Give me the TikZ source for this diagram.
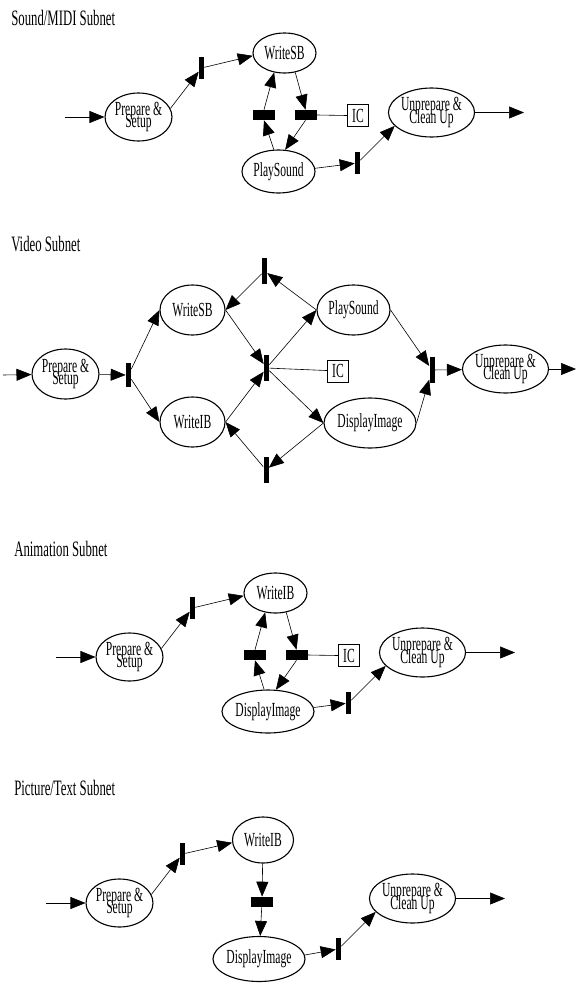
\documentclass[tikz,border=0pt]{standalone}
\usepackage{fontspec}
\setmainfont{Liberation Serif}[FakeStretch=0.58]
\usetikzlibrary{shapes.geometric,arrows.meta}
\newcommand\placefont{\fontsize{20}{12.5}\selectfont\lineskiplimit -30pt\relax}

\begin{document}
\begin{tikzpicture}[x=1pt,y=-1pt,line width=0.6pt,>={Triangle[length=15pt,width=12pt]},
    every node/.style={inner sep=0pt},
    place/.style={draw,ellipse,line width=1.1pt,align=center,font=\placefont},
    vbar/.style={fill=black,minimum width=5pt,minimum height=22pt},
    hbar/.style={fill=black,minimum width=22pt,minimum height=10pt},
    icbox/.style={draw,minimum width=21pt,minimum height=22pt,font=\fontsize{20}{12}\selectfont},
    title/.style={anchor=west,font=\fontsize{22}{24}\selectfont}]
  \useasboundingbox (0,0) rectangle (576,983);
  % sound/midi
  \node[title] (t1) at (11,18) {Sound/MIDI Subnet};
  \coordinate (s0) at (65,117);
  \node[place,minimum width=63pt,minimum height=48pt] (sprep) at (138.5,117) {Prepare \&\\Setup};
  \node[vbar] (sb1) at (201.5,68) {};
  \node[place,minimum width=63pt,minimum height=40pt] (sws) at (284.5,53) {WriteSB};
  \node[hbar] (slb) at (264,115) {};
  \node[hbar] (srb) at (305.5,115) {};
  \node[icbox] (sic) at (358,115.5) {IC};
  \node[place,minimum width=73pt,minimum height=43pt] (sps) at (278.5,171.5) {PlaySound};
  \node[vbar] (sb2) at (357.5,163) {};
  \node[place,minimum width=85pt,minimum height=49pt] (sup) at (431.5,112.5) {Unprepare \&\\Clean Up};
  \coordinate (s9) at (524,112.5);
  \draw[->] (s0) -- (sprep);
  \draw[->] (sprep.15) -- (sb1);
  \draw[->] (sb1) -- (sws.185);
  \draw[->] (sws.-61) -- (srb.north);
  \draw[->] (srb.south) -- (sps.73);
  \draw[->] (sps.102) -- (slb.south);
  \draw[->] (slb.north) -- (sws.-118);
  \draw (srb.east) -- (sic.west);
  \draw[->] (sps.5) -- (sb2);
  \draw[->] (sb2) -- (sup.200);
  \draw[->] (sup.east) -- (s9);
  % video
  \node[title] (t2) at (11,244) {Video Subnet};
  \coordinate (v0) at (3,375);
  \node[place,minimum width=63pt,minimum height=50pt] (vprep) at (65.5,374) {Prepare \&\\Setup};
  \node[vbar,minimum height=24pt] (vb1) at (128.5,375) {};
  \node[place,minimum width=65pt,minimum height=50pt] (vws) at (192.5,310) {WriteSB};
  \node[place,minimum width=65pt,minimum height=50pt] (vwi) at (192.5,422) {WriteIB};
  \node[vbar,minimum height=26pt] (vtb) at (264.5,271) {};
  \node[vbar,minimum height=26pt] (vcb) at (266.5,368) {};
  \node[vbar,minimum height=26pt] (vbb) at (266,470) {};
  \node[place,minimum width=73pt,minimum height=50pt] (vps) at (353.5,310) {PlaySound};
  \node[place,minimum width=82pt,minimum height=50pt] (vdi) at (370,423) {DisplayImage};
  \node[icbox] (vic) at (338,371) {IC};
  \node[vbar,minimum height=26pt] (vrb) at (432,370) {};
  \node[place,minimum width=83pt,minimum height=48pt] (vup) at (505.5,369) {Unprepare \&\\Clean Up};
  \coordinate (v9) at (576,369);
  \draw[->] (v0) -- (vprep);
  \draw[->] (vprep) -- (vb1);
  \draw[->] (vb1) -- (vws.west);
  \draw[->] (vb1) -- (vwi.west);
  \draw[->] (vws.east) -- (vcb);
  \draw[->] (vwi.east) -- (vcb);
  \draw[->] (vcb) -- (vps.west);
  \draw[->] (vcb) -- (vdi.west);
  \draw (vcb) -- (vic);
  \draw[->] (vps.west) -- (vtb);
  \draw[->] (vtb) -- (vws.east);
  \draw[->] (vdi.west) -- (vbb);
  \draw[->] (vbb) -- (vwi.east);
  \draw[->] (vps.east) -- (vrb);
  \draw[->] (vdi.east) -- (vrb);
  \draw[->] (vrb) -- (vup);
  \draw[->] (vup) -- (v9);
  % animation
  \node[title] (t3) at (14,549) {Animation Subnet};
  \coordinate (a0) at (56,657);
  \node[place,minimum width=63pt,minimum height=48pt] (aprep) at (129.5,657) {Prepare \&\\Setup};
  \node[vbar] (ab1) at (192.5,608) {};
  \node[place,minimum width=63pt,minimum height=40pt] (awi) at (275.5,593) {WriteIB};
  \node[hbar] (alb) at (255,655) {};
  \node[hbar] (arb) at (296.5,655) {};
  \node[icbox] (aic) at (349,655.5) {IC};
  \node[place,minimum width=81pt,minimum height=43pt] (adi) at (268,711.5) {DisplayImage};
  \node[vbar] (ab2) at (348.5,703) {};
  \node[place,minimum width=85pt,minimum height=49pt] (aup) at (422.5,652.5) {Unprepare \&\\Clean Up};
  \coordinate (a9) at (515,652.5);
  \draw[->] (a0) -- (aprep);
  \draw[->] (aprep.15) -- (ab1);
  \draw[->] (ab1) -- (awi.185);
  \draw[->] (awi.-61) -- (arb.north);
  \draw[->] (arb.south) -- (adi.70);
  \draw[->] (adi.100) -- (alb.south);
  \draw[->] (alb.north) -- (awi.-118);
  \draw (arb.east) -- (aic.west);
  \draw[->] (adi.5) -- (ab2);
  \draw[->] (ab2) -- (aup.200);
  \draw[->] (aup.east) -- (a9);
  % picture/text
  \node[title] (t4) at (14,788) {Picture/Text Subnet};
  \coordinate (p0) at (46,903);
  \node[place,minimum width=63pt,minimum height=48pt] (pprep) at (119.5,903) {Prepare \&\\Setup};
  \node[vbar] (pb1) at (182.5,854) {};
  \node[place,minimum width=61pt,minimum height=46pt] (pwi) at (263,840) {WriteIB};
  \node[hbar] (pbar) at (262,902) {};
  \node[place,minimum width=82pt,minimum height=45pt] (pdi) at (259,959) {DisplayImage};
  \node[vbar] (pb2) at (338.5,949) {};
  \node[place,minimum width=85pt,minimum height=49pt] (pup) at (412.5,898.5) {Unprepare \&\\Clean Up};
  \coordinate (p9) at (505,898.5);
  \draw[->] (p0) -- (pprep);
  \draw[->] (pprep.15) -- (pb1);
  \draw[->] (pb1) -- (pwi.185);
  \draw[->] (pwi) -- (pbar);
  \draw[->] (pbar) -- (pdi);
  \draw[->] (pdi.5) -- (pb2);
  \draw[->] (pb2) -- (pup.200);
  \draw[->] (pup.east) -- (p9);
\end{tikzpicture}
\end{document}
